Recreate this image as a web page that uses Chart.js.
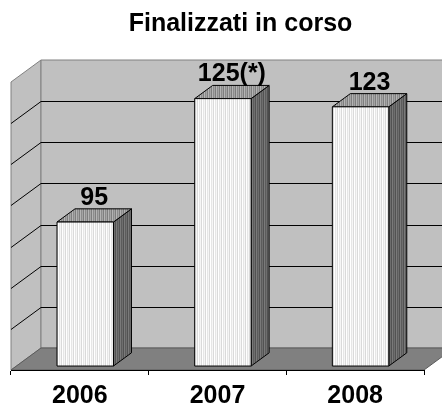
<!DOCTYPE html>
<html><head><meta charset="utf-8">
<script src="https://cdn.jsdelivr.net/npm/chart.js@4/dist/chart.umd.min.js"></script>
<style>html,body{margin:0;padding:0;background:#fff;overflow:hidden}#wrap{width:442px;height:408px}</style>
</head><body><div id="wrap"><canvas id="c"></canvas></div>
<script>
const categories = ['2006', '2007', '2008'];
const values = [95, 125, 123];
const valueLabels = ['95', '125(*)', '123'];
const yMin = 60, yMax = 130, yStep = 10;
const titleText = 'Finalizzati in corso';

const FONT = "'Liberation Sans', Arial, sans-serif";
const WALL = {dx: 30, dy: -22};
const BAR_FRONT = 0.18, BAR_DEPTH = 0.6;
const TITLE_SHIFT = 23;
const X_AXIS_HEIGHT = 38;

function pattern(ctx, cols) {
  const c = document.createElement('canvas');
  c.width = cols.length; c.height = 1;
  const x = c.getContext('2d');
  cols.forEach((col, i) => { x.fillStyle = col; x.fillRect(i, 0, 1, 1); });
  return ctx.createPattern(c, 'repeat');
}
function poly(ctx, pts, fill, stroke) {
  ctx.beginPath();
  ctx.moveTo(pts[0][0], pts[0][1]);
  for (let i = 1; i < pts.length; i++) ctx.lineTo(pts[i][0], pts[i][1]);
  ctx.closePath();
  if (fill) { ctx.fillStyle = fill; ctx.fill(); }
  if (stroke) { ctx.strokeStyle = stroke; ctx.lineWidth = 1; ctx.stroke(); }
}

const scene = {
  id: 'scene',
  afterLayout(chart) {
    const t = chart.titleBlock;
    if (t) { t.left += TITLE_SHIFT; t.right += TITLE_SHIFT; }
  },
  beforeDraw(chart) {
    const {ctx, chartArea: a, scales: {y}} = chart;
    const L = a.left, R = a.right;
    const B = y.getPixelForValue(yMin), T = y.getPixelForValue(yMax);
    const dx = WALL.dx, dy = WALL.dy;
    ctx.save();
    poly(ctx, [[L, B], [L + dx, B + dy], [L + dx, T + dy], [L, T]], '#c0c0c0', '#808080');
    poly(ctx, [[L + dx, B + dy], [R + dx, B + dy], [R + dx, T + dy], [L + dx, T + dy]], '#c0c0c0', '#808080');
    ctx.strokeStyle = '#000'; ctx.lineWidth = 1;
    for (let v = yMin + yStep; v < yMax; v += yStep) {
      const py = Math.round(y.getPixelForValue(v)) + 0.5;
      ctx.beginPath();
      ctx.moveTo(L, py);
      ctx.lineTo(L + dx, py + dy);
      ctx.lineTo(R + dx, py + dy);
      ctx.stroke();
    }
    poly(ctx, [[L, B], [R, B], [R + dx, B + dy], [L + dx, B + dy]], '#808080', '#5a5a5a');
    ctx.restore();
  },
  afterDatasetsDraw(chart) {
    const ctx = chart.ctx;
    const front = pattern(ctx, ['#f6f6f6', '#dadada', '#ffffff', '#e6e6e6']);
    const top = pattern(ctx, ['#b4b4b4', '#8c8c8c', '#a4a4a4', '#7e7e7e']);
    const side = pattern(ctx, ['#7a7a7a', '#5c5c5c', '#6e6e6e', '#525252']);
    const dx = WALL.dx, dy = WALL.dy;
    const ox = dx * BAR_FRONT, oy = dy * BAR_FRONT;
    const bx = dx * BAR_DEPTH, by = dy * BAR_DEPTH;
    ctx.save();
    chart.getDatasetMeta(0).data.forEach((bar, i) => {
      const p = bar.getProps(['x', 'y', 'base', 'width'], true);
      const l = p.x - p.width / 2 + ox, r = p.x + p.width / 2 + ox;
      const t = p.y + oy, b = p.base + oy;
      poly(ctx, [[r, b], [r + bx, b + by], [r + bx, t + by], [r, t]], side, '#000');
      poly(ctx, [[l, t], [r, t], [r + bx, t + by], [l + bx, t + by]], top, '#000');
      poly(ctx, [[l, b], [r, b], [r, t], [l, t]], front, '#000');
      ctx.fillStyle = '#000';
      ctx.font = 'bold 25px ' + FONT;
      ctx.textAlign = 'center';
      ctx.textBaseline = 'alphabetic';
      ctx.fillText(valueLabels[i], p.x + ox + bx / 2, t + by - 4);
    });
    ctx.restore();
  }
};

new Chart(document.getElementById('c'), {
  type: 'bar',
  data: {
    labels: categories,
    datasets: [{
      data: values,
      base: yMin,
      backgroundColor: 'rgba(0,0,0,0)',
      borderWidth: 0,
      barPercentage: 0.41,
      categoryPercentage: 1
    }]
  },
  options: {
    responsive: true,
    maintainAspectRatio: false,
    animation: false,
    devicePixelRatio: 1,
    layout: {padding: {left: 11, right: 18, top: 0, bottom: 0}},
    plugins: {
      legend: {display: false},
      tooltip: {enabled: false},
      title: {
        display: true,
        text: titleText,
        color: '#000',
        font: {family: FONT, size: 25, weight: 'bold', lineHeight: 1.2},
        padding: {top: 9, bottom: 43}
      }
    },
    scales: {
      x: {
        afterFit(scale) { scale.height = X_AXIS_HEIGHT; },
        grid: {offset: true, drawOnChartArea: false, drawTicks: true, tickLength: 5, color: '#000'},
        border: {display: true, color: '#000', width: 1},
        ticks: {color: '#000', padding: 6, maxRotation: 0, font: {family: FONT, size: 25, weight: 'bold', lineHeight: 1.2}}
      },
      y: {
        display: false,
        min: yMin,
        max: yMax,
        ticks: {stepSize: yStep}
      }
    }
  },
  plugins: [scene]
});
</script>
</body></html>
